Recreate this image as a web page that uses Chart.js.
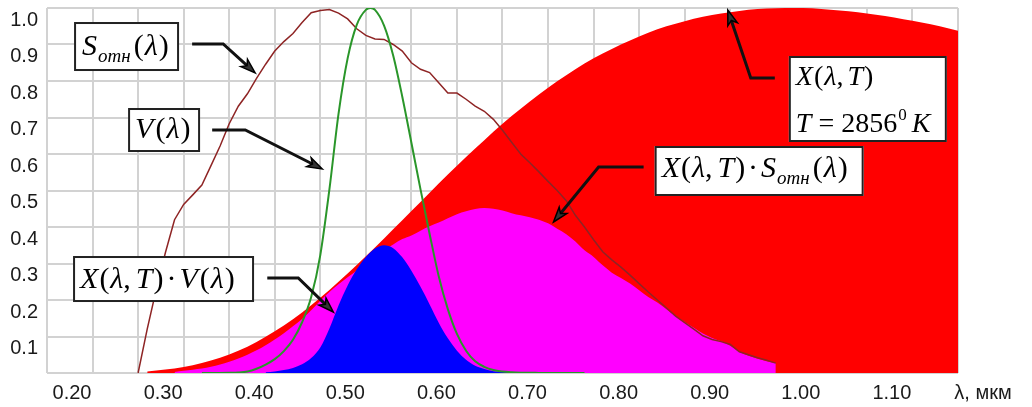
<!DOCTYPE html>
<html><head><meta charset="utf-8">
<script src="https://cdn.jsdelivr.net/npm/chart.js@4.4.0/dist/chart.umd.min.js"></script>
<style>html,body{margin:0;padding:0;background:#fff;}canvas{display:block;}</style>
</head><body>
<canvas id="c" width="1032" height="407"></canvas>
<script>
// ---------- DATA ----------
// X(λ,T): relative emission of the 2856 K source
const lambdaX = [0.31,0.32,0.34,0.36,0.38,0.40,0.42,0.44,0.46,0.48,0.50,0.52,0.54,0.56,0.58,0.60,0.62,0.64,0.66,0.68,0.70,0.72,0.74,0.76,0.78,0.80,0.82,0.84,0.86,0.88,0.90,0.92,0.94,0.96,0.98,1.00,1.02,1.04,1.06,1.08,1.10,1.12,1.14,1.16,1.18,1.20];
const valuesX  = [0.004,0.007,0.012,0.021,0.034,0.051,0.072,0.099,0.130,0.166,0.206,0.250,0.296,0.344,0.394,0.444,0.494,0.544,0.592,0.638,0.683,0.724,0.763,0.799,0.832,0.862,0.888,0.911,0.932,0.950,0.964,0.976,0.985,0.992,0.997,0.999,1.000,0.999,0.995,0.991,0.985,0.978,0.969,0.960,0.950,0.938];

// S_отн(λ): relative spectral sensitivity
const lambdaS = [0.30,0.31,0.32,0.33,0.34,0.35,0.36,0.37,0.38,0.39,0.40,0.41,0.42,0.43,0.44,0.45,0.46,0.47,0.48,0.49,0.50,0.51,0.52,0.53,0.54,0.55,0.56,0.57,0.58,0.59,0.60,0.61,0.62,0.63,0.64,0.65,0.66,0.67,0.68,0.69,0.70,0.71,0.72,0.73,0.74,0.75,0.76,0.77,0.78,0.79,0.80,0.81,0.82,0.83,0.84,0.85,0.86,0.87,0.88,0.89,0.90,0.91,0.92,0.93,0.94,0.95,0.96,0.97,0.98,0.99,1.00];
const valuesS  = [0.000,0.120,0.230,0.330,0.420,0.462,0.488,0.515,0.568,0.622,0.683,0.731,0.765,0.807,0.846,0.882,0.908,0.930,0.960,0.987,0.993,0.996,0.986,0.970,0.943,0.925,0.915,0.914,0.900,0.882,0.850,0.832,0.823,0.795,0.767,0.767,0.750,0.731,0.717,0.695,0.665,0.632,0.600,0.576,0.551,0.525,0.500,0.472,0.432,0.400,0.365,0.332,0.310,0.290,0.268,0.245,0.222,0.200,0.178,0.156,0.138,0.120,0.102,0.092,0.086,0.078,0.058,0.050,0.042,0.035,0.027];

// V(λ): photopic luminous efficiency
const lambdaV = [0.37,0.38,0.39,0.40,0.41,0.42,0.43,0.44,0.45,0.46,0.47,0.48,0.49,0.50,0.51,0.52,0.53,0.54,0.55,0.555,0.56,0.57,0.58,0.59,0.60,0.61,0.62,0.63,0.64,0.65,0.66,0.67,0.68,0.69,0.70,0.71,0.72,0.73,0.74,0.75,0.76,0.77,0.78,0.79];
const valuesV  = [0.000,0.0001,0.0001,0.0004,0.0012,0.004,0.0116,0.023,0.038,0.060,0.091,0.139,0.208,0.323,0.503,0.710,0.862,0.954,0.995,1.000,0.995,0.952,0.870,0.757,0.631,0.503,0.381,0.265,0.175,0.107,0.061,0.032,0.017,0.0082,0.0041,0.0021,0.001,0.0005,0.0003,0.0001,0.0001,0,0,0];

// X(λ,T)·S_отн(λ)
const lambdaXS = [0.34,0.35,0.36,0.37,0.38,0.39,0.40,0.41,0.42,0.43,0.44,0.45,0.46,0.47,0.48,0.49,0.50,0.51,0.52,0.53,0.54,0.55,0.56,0.57,0.58,0.59,0.60,0.61,0.62,0.63,0.64,0.65,0.66,0.67,0.68,0.69,0.70,0.71,0.72,0.73,0.74,0.75,0.76,0.77,0.78,0.79,0.80,0.81,0.82,0.83,0.84,0.85,0.86,0.87,0.88,0.89,0.90,0.91,0.92,0.93,0.94,0.95,0.96,0.97,0.98,0.99,1.00];
const valuesXS  = [0.003,0.006,0.009,0.012,0.017,0.023,0.031,0.040,0.050,0.062,0.076,0.092,0.109,0.128,0.148,0.172,0.198,0.222,0.243,0.262,0.280,0.296,0.315,0.336,0.352,0.367,0.377,0.390,0.402,0.412,0.424,0.435,0.443,0.449,0.452,0.450,0.445,0.438,0.432,0.427,0.420,0.410,0.395,0.380,0.360,0.336,0.318,0.295,0.275,0.260,0.245,0.227,0.208,0.193,0.175,0.156,0.140,0.124,0.108,0.096,0.087,0.075,0.058,0.047,0.039,0.032,0.027];

// X(λ,T)·V(λ)
const lambdaXV = [0.44,0.45,0.46,0.47,0.48,0.49,0.50,0.51,0.52,0.53,0.54,0.55,0.56,0.57,0.58,0.59,0.60,0.61,0.62,0.63,0.64,0.65,0.66,0.67,0.68,0.69,0.70,0.71];
const valuesXV  = [0.002,0.004,0.008,0.014,0.024,0.041,0.070,0.122,0.185,0.240,0.284,0.318,0.341,0.350,0.342,0.317,0.280,0.236,0.188,0.138,0.095,0.061,0.036,0.020,0.011,0.005,0.003,0.0015];

// Axis ticks
const xTickValues = [0.20,0.25,0.30,0.35,0.40,0.45,0.50,0.55,0.60,0.65,0.70,0.75,0.80,0.85,0.90,0.95,1.00,1.05,1.10,1.15,1.20];
const xTickLabels = ['0.20','0.30','0.40','0.50','0.60','0.70','0.80','0.90','1.00','1.10','λ, мкм'];
const yTickValues = [0,0.1,0.2,0.3,0.4,0.5,0.6,0.7,0.8,0.9,1.0];
const yTickLabels = ['0.1','0.2','0.3','0.4','0.5','0.6','0.7','0.8','0.9','1.0'];

// ---------- ANNOTATIONS (anchored in data units) ----------
const boxes = [
  {at:[0.2297,0.9616], w:105, h:49, pad:8, lines:[{base:33, runs:[['S',1,30,0,1],['отн',1,19,7,3],['(',0,30,0,1],['λ',1,30,0,1],[')',0,30,0,0]]}]},
  {at:[0.2890,0.7260], w:72, h:44, pad:7, lines:[{base:30, runs:[['V',1,30,0,2],['(',0,30,0,1],['λ',1,30,0,1],[')',0,30,0,0]]}]},
  {at:[0.2286,0.3205], w:181, h:46, pad:7, lines:[{base:32, runs:[['X',1,30,0,1],['(',0,30,0,1],['λ',1,30,0,0],[',',0,30,0,5],['T',1,30,0,1],[')',0,30,0,3],['·',0,30,0,3],['V',1,30,0,2],['(',0,30,0,1],['λ',1,30,0,1],[')',0,30,0,0]]}]},
  {at:[1.0143,0.8685], w:158, h:86, pad:7, lines:[
     {base:29, runs:[['X',1,28,0,1],['(',0,28,0,1],['λ',1,28,0,0],[',',0,28,0,4],['T',1,28,0,1],[')',0,28,0,0]]},
     {base:76, runs:[['T',1,28,0,7],['=',0,28,0,7],['2856',0,28,0,1],['0',0,17,-12,5],['K',1,28,0,0]]}]},
  {at:[0.8670,0.6219], w:209, h:50, pad:7, lines:[{base:31, runs:[['X',1,30,0,1],['(',0,30,0,1],['λ',1,30,0,0],[',',0,30,0,5],['T',1,30,0,1],[')',0,30,0,3],['·',0,30,0,3],['S',1,30,0,1],['отн',1,19,7,3],['(',0,30,0,1],['λ',1,30,0,1],[')',0,30,0,0]]}]}
];
const arrows = [
  [[0.3593,0.9014],[0.3934,0.9014],[0.4286,0.8219]],
  [[0.3813,0.6658],[0.4176,0.6658],[0.5022,0.5589]],
  [[0.4418,0.2603],[0.4758,0.2603],[0.5143,0.1671]],
  [[0.9989,0.8082],[0.9725,0.8082],[0.9473,0.9945]],
  [[0.8549,0.5644],[0.8055,0.5644],[0.7560,0.4137]]
];

const pts = (xs, ys) => xs.map((x, i) => ({x, y: ys[i]}));
const SERIF = '"Liberation Serif","Times New Roman",serif';
const SANS = '"Liberation Sans",Arial,sans-serif';

const annotationPlugin = {
  id: 'annot',
  afterDatasetsDraw(chart) {
    const ctx = chart.ctx, sx = chart.scales.x, sy = chart.scales.y;
    const P = p => [sx.getPixelForValue(p[0]), sy.getPixelForValue(p[1])];
    ctx.save();
    // arrows
    for (const a of arrows) {
      const [s, e, t] = a.map(P);
      const ang = Math.atan2(t[1]-e[1], t[0]-e[0]);
      const L = 15, W = 5;
      const bx = t[0] - L*Math.cos(ang), by = t[1] - L*Math.sin(ang);
      ctx.strokeStyle = '#111'; ctx.lineWidth = 3; ctx.lineJoin = 'miter'; ctx.lineCap = 'butt';
      ctx.beginPath(); ctx.moveTo(s[0], s[1]); ctx.lineTo(e[0], e[1]); ctx.lineTo(bx + 4*Math.cos(ang), by + 4*Math.sin(ang)); ctx.stroke();
      ctx.beginPath();
      ctx.moveTo(t[0], t[1]);
      ctx.lineTo(bx + W*Math.sin(ang), by - W*Math.cos(ang));
      ctx.lineTo(bx + 4*Math.cos(ang), by + 4*Math.sin(ang));
      ctx.lineTo(bx - W*Math.sin(ang), by + W*Math.cos(ang));
      ctx.closePath();
      ctx.fillStyle = '#333'; ctx.fill();
      ctx.lineWidth = 1.5; ctx.strokeStyle = '#000'; ctx.stroke();
    }
    // boxes
    for (const b of boxes) {
      const [x0, y0] = P(b.at);
      ctx.fillStyle = '#fff';
      ctx.fillRect(x0, y0, b.w, b.h);
      ctx.lineWidth = 2; ctx.strokeStyle = '#222';
      ctx.strokeRect(x0 + 1, y0 + 1, b.w - 2, b.h - 2);
      ctx.fillStyle = '#000'; ctx.textBaseline = 'alphabetic'; ctx.textAlign = 'left';
      for (const ln of b.lines) {
        let x = x0 + b.pad;
        for (const r of ln.runs) {
          ctx.font = (r[1] ? 'italic ' : '') + r[2] + 'px ' + SERIF;
          ctx.fillText(r[0], x, y0 + ln.base + r[3]);
          x += ctx.measureText(r[0]).width + r[4];
        }
      }
    }
    ctx.restore();
  }
};

const noPad = s => { s.paddingTop = 0; s.paddingBottom = 0; s.paddingLeft = 0; s.paddingRight = 0; };

new Chart(document.getElementById('c'), {
  type: 'line',
  data: {
    datasets: [
      {data: pts(lambdaX, valuesX), backgroundColor: '#ff0000', borderWidth: 0, fill: 'origin', pointRadius: 0, order: 5, cubicInterpolationMode: 'monotone'},
      {data: pts(lambdaXS, valuesXS), backgroundColor: '#ff00ff', borderWidth: 0, fill: 'origin', pointRadius: 0, order: 4, cubicInterpolationMode: 'monotone'},
      {data: pts(lambdaXV, valuesXV), backgroundColor: '#0000ff', borderWidth: 0, fill: 'origin', pointRadius: 0, order: 3, cubicInterpolationMode: 'monotone'},
      {data: pts(lambdaS, valuesS), borderColor: '#8e2424', borderWidth: 1.5, fill: false, pointRadius: 0, order: 2, tension: 0},
      {data: pts(lambdaV, valuesV), borderColor: '#2a962a', borderWidth: 2, fill: false, pointRadius: 0, order: 1, cubicInterpolationMode: 'monotone'}
    ]
  },
  options: {
    responsive: false, animation: false, events: [],
    layout: {padding: {left: 0, right: 74, top: 8, bottom: 0}},
    plugins: {legend: {display: false}, tooltip: {enabled: false}},
    scales: {
      x: {
        type: 'linear', min: 0.2, max: 1.2,
        afterBuildTicks: s => { s.ticks = xTickValues.map(v => ({value: v})); },
        afterFit: s => { s.height = 34; noPad(s); },
        grid: {color: '#d2d2d2', lineWidth: 2, drawTicks: false},
        border: {display: false},
        ticks: {
          autoSkip: false, maxRotation: 0, minRotation: 0, padding: 8, labelOffset: 25,
          color: '#1a1a1a', font: {family: SANS, size: 20},
          callback: (v, i) => (i % 2 === 0 ? xTickLabels[i / 2] : '')
        }
      },
      y: {
        min: 0, max: 1,
        afterBuildTicks: s => { s.ticks = yTickValues.map(v => ({value: v})); },
        afterFit: s => { s.width = 47; noPad(s); },
        grid: {color: '#d2d2d2', lineWidth: 2, drawTicks: false},
        border: {display: false},
        ticks: {
          autoSkip: false, padding: 9, labelOffset: 12,
          color: '#1a1a1a', font: {family: SANS, size: 20},
          callback: (v, i) => (i === 0 ? '' : yTickLabels[i - 1])
        }
      }
    }
  },
  plugins: [annotationPlugin]
});
</script>
</body></html>
